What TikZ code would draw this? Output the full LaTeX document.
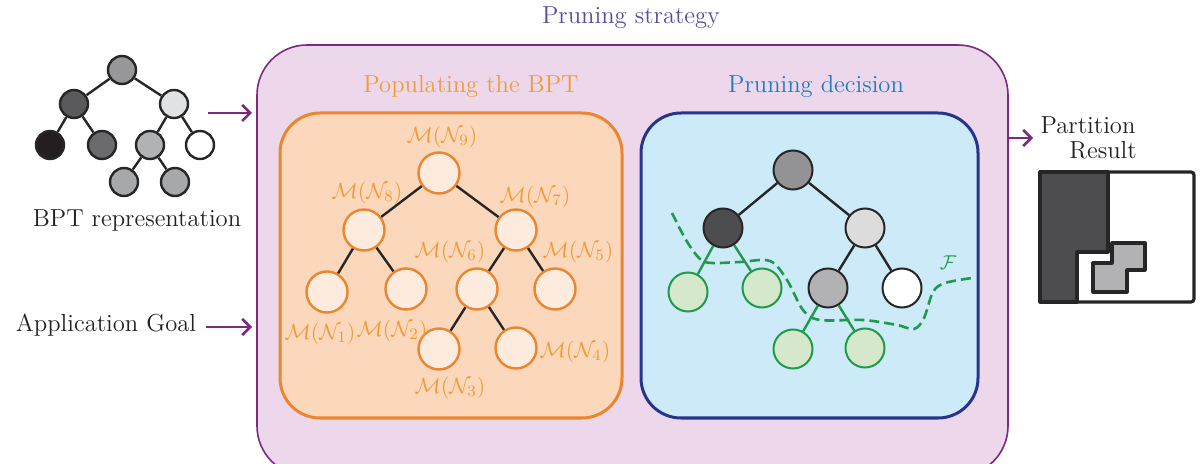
\documentclass[tikz,border=0pt]{standalone}
\usepackage{amsmath,amssymb}
\usetikzlibrary{arrows.meta,positioning}

\definecolor{stratpurple}{HTML}{7A2A7F}
\definecolor{strattext}{HTML}{5B4AA0}
\definecolor{stratfill}{HTML}{ECD8EA}
\definecolor{orangetext}{HTML}{F39A38}
\definecolor{orangeline}{HTML}{EC8530}
\definecolor{orangefill}{HTML}{FBD8BB}
\definecolor{orangenode}{HTML}{FDEBDD}
\definecolor{bluetext}{HTML}{1F7BC5}
\definecolor{blueline}{HTML}{27348B}
\definecolor{bluefill}{HTML}{CDEAF8}
\definecolor{frontgreen}{HTML}{1F9A4A}
\definecolor{frontfill}{HTML}{D5E8CC}
\definecolor{textgray}{HTML}{222222}

\begin{document}
\begin{tikzpicture}[x=0.5pt,y=-0.5pt,
    txt/.style={font=\fontsize{12.3}{14}\selectfont, text=textgray, inner sep=0pt},
    head/.style={font=\fontsize{12.3}{14}\selectfont, inner sep=0pt},
    gnode/.style={circle, draw=black!85, line width=1.2pt, minimum size=14pt, inner sep=0pt},
    onode/.style={circle, draw=orangeline, fill=orangenode, line width=1.2pt, minimum size=20.5pt, inner sep=0pt},
    pnode/.style={circle, draw=black!85, line width=1pt, minimum size=19.5pt, inner sep=0pt},
    fnode/.style={pnode, draw=frontgreen, fill=frontfill},
    mlab/.style={text=orangetext, font=\fontsize{11}{13}\selectfont, inner sep=0pt},
    edge/.style={black!85, line width=1.2pt},
    fedge/.style={frontgreen, line width=1.2pt},
    goal/.style={stratpurple, line width=1.3pt, -{Straight Barb[length=4pt,width=8pt]}}
  ]
    \clip (0,0) rectangle (1204,464);

    % BPT
    \node[gnode, fill={rgb,255:red,152;green,152;blue,155}] (bptroot) at (122,70) {};
    \node[gnode, fill={rgb,255:red,90;green,90;blue,92}] (bptL) at (74,104) {};
    \node[gnode, fill={rgb,255:red,225;green,226;blue,227}] (bptR) at (174,104) {};
    \node[gnode, fill={rgb,255:red,35;green,31;blue,32}] (bptLL) at (50,145) {};
    \node[gnode, fill={rgb,255:red,107;green,107;blue,109}] (bptLR) at (102,145) {};
    \node[gnode, fill={rgb,255:red,177;green,178;blue,180}] (bptRL) at (150,145) {};
    \node[gnode, fill=white] (bptRR) at (200,145) {};
    \node[gnode, fill={rgb,255:red,167;green,168;blue,170}] (bptRLL) at (124,182) {};
    \node[gnode, fill={rgb,255:red,167;green,168;blue,170}] (bptRLR) at (175,182) {};
    \draw[edge] (bptroot) -- (bptL);
    \draw[edge] (bptroot) -- (bptR);
    \draw[edge] (bptL) -- (bptLL);
    \draw[edge] (bptL) -- (bptLR);
    \draw[edge] (bptR) -- (bptRL);
    \draw[edge] (bptR) -- (bptRR);
    \draw[edge] (bptRL) -- (bptRLL);
    \draw[edge] (bptRL) -- (bptRLR);
    \node[txt] (bpttext) at (137,220) {BPT representation};
    \node[txt] (appgoal) at (106,325) {Application Goal};

    % Pruning strategy
    \node[head, text=strattext] (strathead) at (631,18) {Pruning strategy};
    \draw[stratpurple, fill=stratfill, line width=0.8pt, rounded corners=25pt] (257,45) rectangle (1008,476);
    \coordinate (bptout) at (208,113);
    \coordinate (bptin) at (252,113);
    \coordinate (goalout) at (206,327);
    \coordinate (goalin) at (252,327);
    \draw[goal] (bptout) -- (bptin);
    \draw[goal] (goalout) -- (goalin);

    % Populating
    \node[head, text=orangetext] (pophead) at (471,86) {Populating the BPT};
    \draw[orangeline, fill=orangefill, line width=1.5pt, rounded corners=20pt] (280,113) rectangle (622,418);
    \node[onode] (n9) at (439,173) {};
    \node[onode] (n8) at (364,230) {};
    \node[onode] (n7) at (516,230) {};
    \node[onode] (n1) at (327,292) {};
    \node[onode] (n2) at (406,289) {};
    \node[onode] (n6) at (477,289) {};
    \node[onode] (n5) at (555,289) {};
    \node[onode] (n3) at (439,349) {};
    \node[onode] (n4) at (516,348) {};
    \draw[edge] (n9) -- (n8);
    \draw[edge] (n9) -- (n7);
    \draw[edge] (n8) -- (n1);
    \draw[edge] (n8) -- (n2);
    \draw[edge] (n7) -- (n6);
    \draw[edge] (n7) -- (n5);
    \draw[edge] (n6) -- (n3);
    \draw[edge] (n6) -- (n4);
    \node[mlab] (m9) at (442,137) {$\mathcal{M}(\mathcal{N}_9)$};
    \node[mlab] (m8) at (367,193) {$\mathcal{M}(\mathcal{N}_8)$};
    \node[mlab] (m7) at (535,197) {$\mathcal{M}(\mathcal{N}_7)$};
    \node[mlab] (m6) at (450,252) {$\mathcal{M}(\mathcal{N}_6)$};
    \node[mlab] (m5) at (578,252) {$\mathcal{M}(\mathcal{N}_5)$};
    \node[mlab] (m1) at (320,334) {$\mathcal{M}(\mathcal{N}_1)$};
    \node[mlab] (m2) at (392,331) {$\mathcal{M}(\mathcal{N}_2)$};
    \node[mlab] (m3) at (450,388) {$\mathcal{M}(\mathcal{N}_3)$};
    \node[mlab] (m4) at (575,352) {$\mathcal{M}(\mathcal{N}_4)$};

    % Pruning decision
    \node[head, text=bluetext] (prunehead) at (816,86) {Pruning decision};
    \draw[blueline, fill=bluefill, line width=1.5pt, rounded corners=20pt] (641,113) rectangle (978,418);
    \node[pnode, fill={rgb,255:red,147;green,147;blue,150}] (p9) at (793,170) {};
    \node[pnode, fill={rgb,255:red,77;green,77;blue,79}] (p8) at (723,228) {};
    \node[pnode, fill={rgb,255:red,220;green,220;blue,221}] (p7) at (865,228) {};
    \node[fnode] (p1) at (688,292) {};
    \node[fnode] (p2) at (762,288) {};
    \node[pnode, fill={rgb,255:red,178;green,178;blue,180}] (p6) at (828,288) {};
    \node[pnode, fill=white] (p5) at (902,288) {};
    \node[fnode] (p3) at (793,349) {};
    \node[fnode] (p4) at (865,348) {};
    \draw[edge] (p9) -- (p8);
    \draw[edge] (p9) -- (p7);
    \draw[edge] (p7) -- (p6);
    \draw[edge] (p7) -- (p5);
    \draw[fedge] (p8) -- (p1);
    \draw[fedge] (p8) -- (p2);
    \draw[fedge] (p6) -- (p3);
    \draw[fedge] (p6) -- (p4);
    \draw[frontgreen, line width=1.3pt, dash pattern=on 5pt off 2.5pt]
      plot[smooth, tension=0.55] coordinates {(672,213) (686,240) (700,259) (712,263) (740,262) (770,261)
        (787,280) (803,310) (820,320) (863,320) (897,325) (914,329) (924,318) (933,292) (945,283) (972,278)};
    \node[mlab, text=frontgreen, font=\fontsize{10}{12}\selectfont] (frontlab) at (948,263) {$\mathcal{F}$};

    % Partition
    \coordinate (partout) at (1008,138);
    \coordinate (partin) at (1033,138);
    \draw[goal] (partout) -- (partin);
    \node[txt] (parttext) at (1088,125) {Partition};
    \node[txt] (restext) at (1103,150) {Result};
    \draw[black!85, fill=white, line width=1.6pt, rounded corners=1.5pt] (1040,172) rectangle (1194,302);
    \draw[black!85, fill={rgb,255:red,77;green,77;blue,79}, line width=1.6pt, line join=round]
      (1040,172) -- (1108,172) -- (1108,252) -- (1077,252) -- (1077,302) -- (1040,302) -- cycle;
    \draw[black!85, fill={rgb,255:red,178;green,178;blue,180}, line width=1.6pt, line join=round]
      (1112,243) -- (1145,243) -- (1145,270) -- (1127,270) -- (1127,292) -- (1093,292) -- (1093,263) -- (1112,263) -- cycle;
\end{tikzpicture}
\end{document}
